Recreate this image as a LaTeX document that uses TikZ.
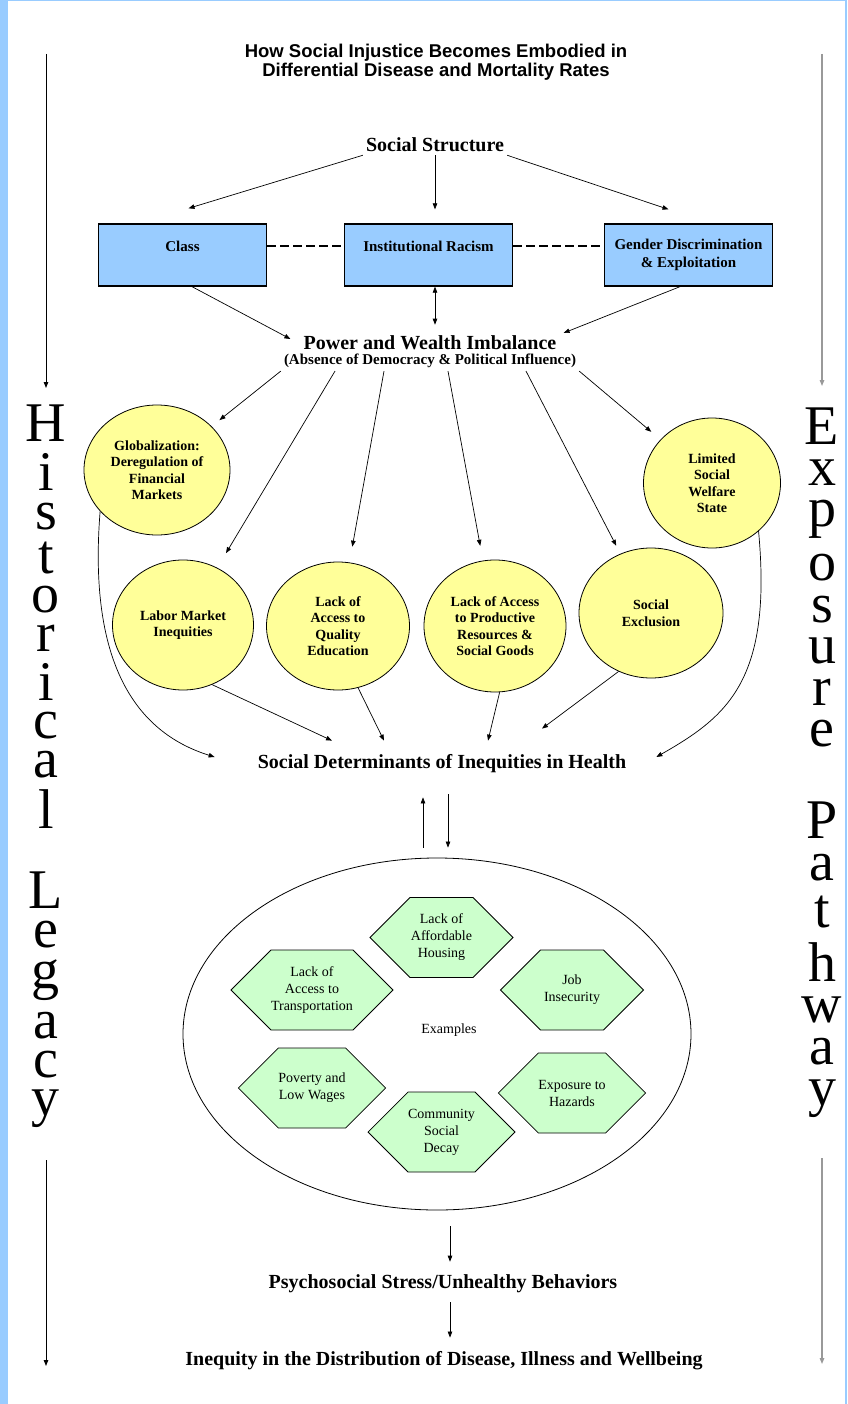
\documentclass[tikz,border=0pt]{standalone}
\usepackage{fontspec}
\setmainfont{Liberation Serif}
\newfontfamily\titlesans{Liberation Sans}
\usetikzlibrary{arrows.meta,shapes.geometric,shapes.symbols}

\definecolor{pageblue}{HTML}{99CCFF}
\definecolor{boxblue}{HTML}{99CCFF}
\definecolor{bubbleyellow}{HTML}{FFFF99}
\definecolor{hexgreen}{HTML}{CCFFCC}

% one letter per line, lines kept #1 apart
\newcommand{\letterstack}[2]{\vbox{\baselineskip=-1pt\lineskip=#1\lineskiplimit=0pt\halign{\hfil##\hfil\cr#2\crcr}}}

\begin{document}
\begin{tikzpicture}[x=1pt,y=-1pt,
		>={Triangle[length=6pt,width=4.5pt]},
		heading/.style={inner sep=3pt,font=\fontsize{20}{24}\selectfont\bfseries},
		bluebox/.style={rectangle,draw,line width=1.3pt,fill=boxblue,minimum width=168pt,minimum height=62pt,inner sep=0pt,align=center,font=\fontsize{15}{18}\selectfont\bfseries},
		toptext/.style={text height=8pt,text depth=14pt},
		bubble/.style={ellipse,draw,line width=0.8pt,fill=bubbleyellow,inner sep=0pt,align=center,font=\fontsize{14}{16.5}\selectfont\bfseries},
		hexbox/.style={signal,signal to=east and west,signal pointer angle=90,draw,line width=0.8pt,fill=hexgreen,minimum width=143pt,minimum height=80pt,inner sep=0pt,align=center,font=\fontsize{14}{17}\selectfont},
		sideword/.style={anchor=north,inner sep=0pt,font=\fontsize{56}{56}\selectfont},
		thin/.style={line width=0.7pt}]

	% page
	\fill[pageblue] (0,0) rectangle (847,1404);
	\fill[white] (7.5,1.5) rectangle (845,1404);

	\node at (436,62) [align=center,font=\titlesans\fontsize{18.5}{19}\selectfont\bfseries] (title) {How Social Injustice Becomes Embodied in\\Differential Disease and Mortality Rates};

	% side columns
	\coordinate (legacy_top) at (46,54);
	\coordinate (legacy_mid) at (46,388);
	\coordinate (legacy_low) at (46,1160);
	\coordinate (legacy_end) at (46,1366);
	\coordinate (pathway_top) at (822,54);
	\coordinate (pathway_mid) at (822,386);
	\coordinate (pathway_low) at (822,1158);
	\coordinate (pathway_end) at (822,1364);

	\node at (46,405)  [sideword] (historical) {\letterstack{12pt}{H\cr i\cr s\cr t\cr o\cr r\cr i\cr c\cr a\cr l\cr\rule{0pt}{19pt}\cr L\cr e\cr g\cr a\cr c\cr y}};
	\node at (822,408) [sideword] (exposure)   {\letterstack{15pt}{E\cr x\cr p\cr o\cr s\cr u\cr r\cr e\cr\rule{0pt}{25pt}\cr P\cr a\cr t\cr h\cr w\cr a\cr y}};

	\draw[->,line width=1pt] (legacy_top) -- (legacy_mid);
	\draw[->,line width=1pt] (legacy_low) -- (legacy_end);
	\draw[->,line width=1.3pt,black!40] (pathway_top) -- (pathway_mid);
	\draw[->,line width=1.3pt,black!40] (pathway_low) -- (pathway_end);

	% structure
	\node at (435,145) [heading] (social_structure) {Social Structure};

	\node at (182.5,255) [bluebox,toptext] (class)  {Class};
	\node at (428.5,255) [bluebox,toptext] (racism) {Institutional Racism};
	\node at (688.5,255) [bluebox]         (gender) {Gender Discrimination\\\& Exploitation};

	\node at (430,343) [heading] (power) {Power and Wealth Imbalance};
	\node at (430,361) [inner sep=3pt,font=\fontsize{15}{18}\selectfont\bfseries] (power_note) {(Absence of Democracy \& Political Influence)};

	\draw[->,thin] (social_structure.south west) -- ([xshift=6pt,yshift=15pt]class.north);
	\draw[->,thin] (social_structure.south)      -- ([yshift=14pt]social_structure.south |- racism.north);
	\draw[->,thin] (social_structure.south east) -- ([xshift=-20pt,yshift=14pt]gender.north);

	\draw[dashed,dash pattern=on 9pt off 4pt,line width=1.2pt] ([yshift=9pt]class.east)  -- ([yshift=9pt]racism.west);
	\draw[dashed,dash pattern=on 9pt off 4pt,line width=1.2pt] ([yshift=9pt]racism.east) -- ([yshift=9pt]gender.west);

	\draw[->,thin]  ([xshift=9.5pt]class.south)   -- ([xshift=-10pt,yshift=4pt]power.west);
	\draw[->,thin]  ([xshift=-8.5pt]gender.south) -- ([xshift=4pt,yshift=10pt]power.east);
	\draw[<->,thin] ([xshift=6.5pt]racism.south)  -- ([xshift=5pt,yshift=8pt]power.north);

	% determinants
	\node at (157,470) [bubble,minimum width=146pt,minimum height=130pt] (globalization) {Globalization:\\Deregulation of\\Financial\\Markets};
	\node at (712,483) [bubble,minimum width=137pt,minimum height=130pt] (welfare)       {Limited\\Social\\Welfare\\State};
	\node at (183,625) [bubble,minimum width=141pt,minimum height=130pt] (labor)         {Labor Market\\Inequities};
	\node at (338,626) [bubble,minimum width=143pt,minimum height=128pt] (education)     {Lack of\\Access to\\Quality\\Education};
	\node at (495,626) [bubble,minimum width=142pt,minimum height=132pt] (productive)    {Lack of Access\\to Productive\\Resources \&\\Social Goods};
	\node at (651,613) [bubble,minimum width=144pt,minimum height=130pt] (exclusion)     {Social\\Exclusion};

	\draw[->,thin,shorten >=10pt] (power_note.south west)         -- (globalization);
	\draw[->,thin,shorten >=17pt] ([xshift=-95pt]power_note.south) -- (labor);
	\draw[->,thin,shorten >=16pt] ([xshift=-46pt]power_note.south) -- (education);
	\draw[->,thin,shorten >=15pt] ([xshift=18pt]power_note.south)  -- (productive);
	\draw[->,thin,shorten >=9pt]  ([xshift=96pt]power_note.south)  -- (exclusion);
	\draw[->,thin,shorten >=12pt] (power_note.south east)         -- (welfare);

	\node at (442,764) [heading] (social_determinants) {Social Determinants of Inequities in Health};

	\draw[->,thin] (labor.-64)      -- ([xshift=-110pt,yshift=11pt]social_determinants.north);
	\draw[->,thin] (education.-72)  -- ([xshift=-58pt,yshift=11pt]social_determinants.north);
	\draw[->,thin] (productive.-86) -- ([xshift=46pt,yshift=11pt]social_determinants.north);
	\draw[->,thin] (exclusion.-119) -- ([xshift=100pt,yshift=23pt]social_determinants.north);
	\draw[->,thin] (globalization.216) .. controls +(-12,150) and +(-80,-25) .. ([xshift=-40pt,yshift=7pt]social_determinants.west);
	\draw[->,thin] (welfare.-46) .. controls +(14,150) and +(70,-40) .. ([xshift=27pt,yshift=7pt]social_determinants.east);

	% examples
	\node at (437,1034) [ellipse,draw,line width=0.8pt,minimum width=508pt,minimum height=352pt] (examples_ring) {};
	\node at (449,1030) [font=\fontsize{14}{17}\selectfont] (examples) {Examples};

	\node at (441.5,937.5) [hexbox] (housing)        {Lack of\\Affordable\\Housing};
	\node at (312,990)     [hexbox] (transportation) {Lack of\\Access to\\Transportation};
	\node at (572,990)     [hexbox] (job)            {Job\\Insecurity};
	\node at (312,1088)    [hexbox] (poverty)        {Poverty and\\Low Wages};
	\node at (572,1093)    [hexbox] (hazards)        {Exposure to\\Hazards};
	\node at (441.5,1132)  [hexbox] (decay)          {Community\\Social\\Decay};

	\draw[->,thin] ([xshift=-14pt,yshift=10pt]examples_ring.north) -- ([xshift=-19pt,yshift=-21pt]social_determinants.south);
	\draw[->,thin] ([xshift=6pt,yshift=-18pt]social_determinants.south) -- ([xshift=11pt,yshift=10pt]examples_ring.north);

	% outcomes
	\node at (443,1284) [heading] (psychosocial) {Psychosocial Stress/Unhealthy Behaviors};
	\node at (444,1361) [heading] (inequity)     {Inequity in the Distribution of Disease, Illness and Wellbeing};

	\draw[->,thin] ([xshift=13pt,yshift=-16pt]examples_ring.south) -- ([xshift=7pt,yshift=10pt]psychosocial.north);
	\draw[->,thin] ([xshift=7pt,yshift=-6pt]psychosocial.south)    -- ([xshift=6pt,yshift=11pt]inequity.north);
\end{tikzpicture}
\end{document}
